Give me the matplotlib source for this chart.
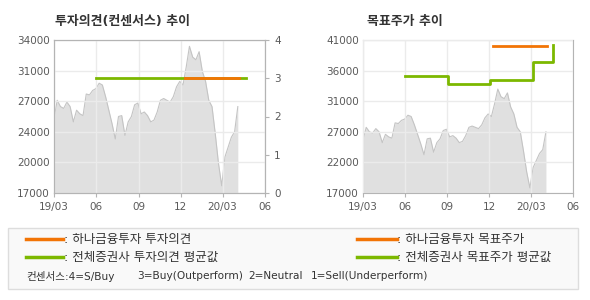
import matplotlib
matplotlib.use('Agg')
import matplotlib.pyplot as plt
from matplotlib.lines import Line2D
from matplotlib.patches import Rectangle
import pandas as pd

plt.rcParams['font.family'] = ['DejaVu Sans', 'Noto Sans CJK KR']

# weekly close
price_start = '2019-03-01'
prices = [25300, 27300, 26600, 26400, 27100, 26600, 24900, 26200, 25800, 25600,
          28000, 27900, 28400, 28600, 29200, 29000, 27700, 26200, 24700, 23000,
          25500, 25600, 23400, 24900, 25500, 26800, 27000, 25800, 26000, 25600,
          24900, 25100, 26000, 27300, 27500, 27300, 27100, 27700, 28800, 29400,
          29000, 31000, 33300, 32100, 31800, 32700, 30500, 29400, 27300, 26600,
          23600, 20300, 17800, 21000, 22100, 23200, 23800, 26600]

hana_op_dates = ['2019-12-10', '2020-04-06']
hana_op = [3, 3]
avg_op_dates = ['2019-06-01', '2020-04-20']
avg_op = [3, 3]

hana_tp_dates = ['2019-12-10', '2020-04-06']
hana_tp = [40000, 40000]
avg_tp_dates = ['2019-06-01', '2019-09-03', '2019-12-03', '2020-03-06', '2020-04-19']
avg_tp = [35300, 34100, 34800, 37500, 40200]

tick_dates = ['2019-03-01', '2019-06-01', '2019-09-01', '2019-12-01', '2020-03-01', '2020-06-01']
tick_labels = ['19/03', '06', '09', '12', '20/03', '06']

ORANGE = '#f27405'
GREEN = '#7cb800'
W, H = 590, 300

dates = pd.date_range(price_start, periods=len(prices), freq='7D')


def style(ax, ymin, ymax):
    ax.fill_between(dates, prices, ymin, color='#e0e0e0', lw=0, zorder=1)
    ax.plot(dates, prices, color='#c4c4c4', lw=0.8, zorder=1.2)
    ax.set_xlim(pd.Timestamp(tick_dates[0]), pd.Timestamp(tick_dates[-1]))
    ax.set_ylim(ymin, ymax)
    ax.set_xticks(pd.to_datetime(tick_dates))
    ax.set_xticklabels(tick_labels)
    yt = [ymin + (ymax - ymin) * i / 5 for i in range(6)]
    ax.set_yticks(yt)
    ax.set_yticklabels([f'{round(v, -3):.0f}' for v in yt])
    ax.set_axisbelow(False)
    ax.grid(True, color='#ebebeb', lw=1)
    for s in ax.spines.values():
        s.set_color('#b4b4b4')
    ax.tick_params(colors='#b4b4b4', labelcolor='#5a5a5a', labelsize=7.5, length=3)
    ax.tick_params(axis='y', length=0, pad=3)


fig = plt.figure(figsize=(5.9, 3.0), dpi=100)

# left: opinion chart
ax1 = fig.add_axes([54 / W, 1 - 193 / H, 211 / W, 153 / H])
style(ax1, 17000, 34000)
ax1b = ax1.twinx()
ax1b.set_ylim(0, 4)
ax1b.set_yticks(range(5))
ax1b.tick_params(colors='#b4b4b4', labelcolor='#5a5a5a', labelsize=7.5, length=3)
for s in ax1b.spines.values():
    s.set_color('#b4b4b4')
ax1b.plot(pd.to_datetime(avg_op_dates), avg_op, color=GREEN, lw=2)
ax1b.plot(pd.to_datetime(hana_op_dates), hana_op, color=ORANGE, lw=2)
ax1b.set_xlim(pd.Timestamp(tick_dates[0]), pd.Timestamp(tick_dates[-1]))

# right: target price chart
ax2 = fig.add_axes([363 / W, 1 - 193 / H, 210 / W, 153 / H])
style(ax2, 17000, 41000)
ax2.plot(pd.to_datetime(avg_tp_dates), avg_tp, color=GREEN, lw=2, drawstyle='steps-post', zorder=3)
ax2.plot(pd.to_datetime(hana_tp_dates), hana_tp, color=ORANGE, lw=2, zorder=3)

fig.text(55 / W, 1 - 21 / H, '투자의견(컨센서스) 추이', fontsize=9.3, fontweight='bold',
         color='#333333', va='center', ha='left')
fig.text(367 / W, 1 - 21 / H, '목표주가 추이', fontsize=9.3, fontweight='bold',
         color='#333333', va='center', ha='left')

# legend box
fig.add_artist(Rectangle((8 / W, 1 - 289 / H), 570 / W, 61 / H, transform=fig.transFigure,
                         facecolor='#f9f9f9', edgecolor='#dddddd', lw=1))
rows = [(239, ORANGE, ': 하나금융투자 투자의견', ': 하나금융투자 목표주가'),
        (257, GREEN, ': 전체증권사 투자의견 평균값', ': 전체증권사 목표주가 평균값')]
for y, c, t1, t2 in rows:
    yy = 1 - y / H
    fig.add_artist(Line2D([26 / W, 63 / W], [yy, yy], color=c, lw=2.5, transform=fig.transFigure))
    fig.text(64 / W, yy, t1, fontsize=9, color='#333333', va='center')
    fig.add_artist(Line2D([357 / W, 397 / W], [yy, yy], color=c, lw=2.5, transform=fig.transFigure))
    fig.text(397 / W, yy, t2, fontsize=9, color='#333333', va='center')

yy = 1 - 276 / H
for x, t in [(26, '컨센서스:4=S/Buy'), (137, '3=Buy(Outperform)'),
             (248, '2=Neutral'), (311, '1=Sell(Underperform)')]:
    fig.text(x / W, yy, t, fontsize=7.6, color='#333333', va='center')

fig.savefig('out.png', dpi=100)
